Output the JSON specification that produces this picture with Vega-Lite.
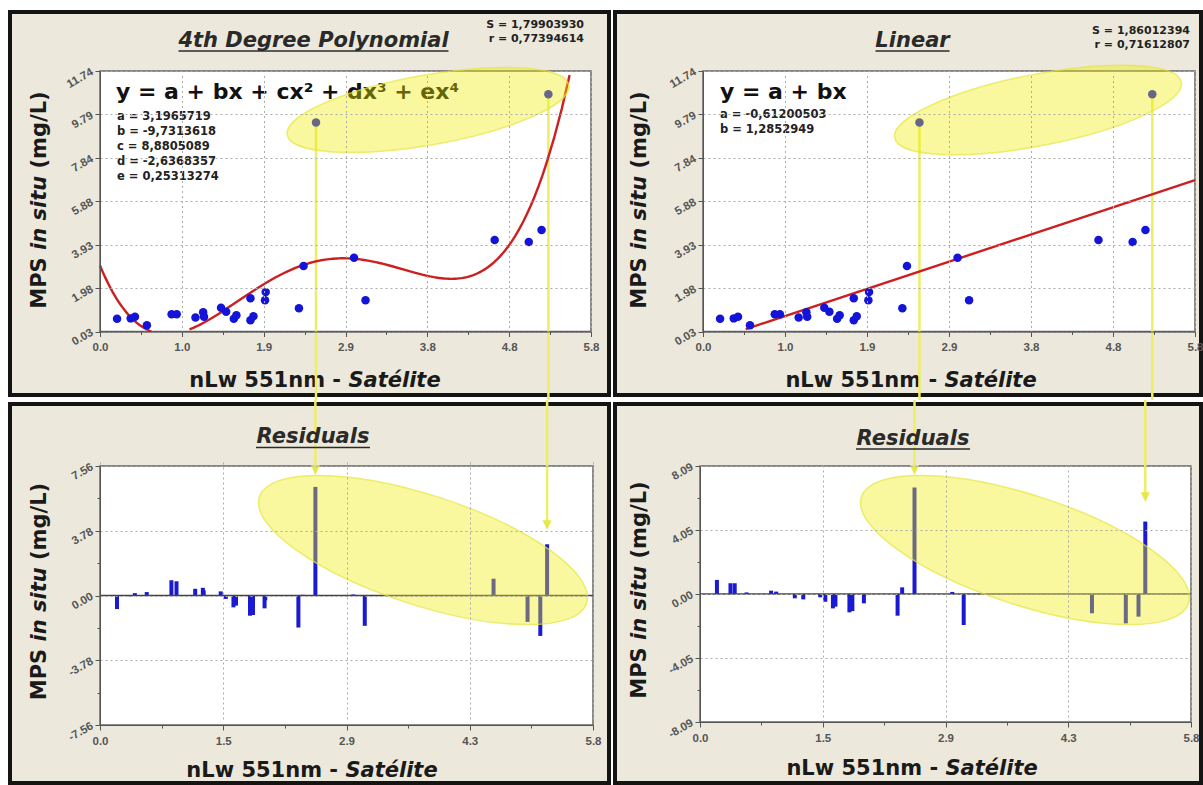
{
"$schema": "https://vega.github.io/schema/vega-lite/v6.json",
"background": "white",
"padding": {"left": 8, "top": 10, "right": 0, "bottom": 0},
"autosize": {"type": "pad"},
"datasets": {
"pts": [
{"x":0.20,"y":0.60,"rp":-0.79,"rl":0.89},
{"x":0.36,"y":0.62,"rp":-0.05,"rl":0.68},
{"x":0.41,"y":0.69,"rp":0.14,"rl":0.68},
{"x":0.55,"y":0.31,"rp":0.20,"rl":0.10},
{"x":0.84,"y":0.81,"rp":0.89,"rl":0.21},
{"x":0.90,"y":0.81,"rp":0.83,"rl":0.15},
{"x":1.12,"y":0.66,"rp":0.39,"rl":-0.27},
{"x":1.21,"y":0.90,"rp":0.45,"rl":-0.05},
{"x":1.22,"y":0.69,"rp":0.30,"rl":-0.34},
{"x":1.42,"y":1.10,"rp":0.24,"rl":-0.21},
{"x":1.48,"y":0.92,"rp":-0.20,"rl":-0.49},
{"x":1.57,"y":0.60,"rp":-0.69,"rl":-0.91},
{"x":1.60,"y":0.76,"rp":-0.59,"rl":-0.80},
{"x":1.765,"y":1.52,"rp":-0.16,"rl":-0.14},
{"x":1.765,"y":0.54,"rp":-1.18,"rl":-1.16},
{"x":1.80,"y":0.72,"rp":-1.14,"rl":-1.08},
{"x":1.944,"y":1.80,"rp":-0.28,"rl":-0.09},
{"x":1.936,"y":1.43,"rp":-0.75,"rl":-0.59},
{"x":2.334,"y":1.08,"rp":-1.87,"rl":-1.37},
{"x":2.388,"y":2.97,"rp":0.04,"rl":0.42},
{"x":2.534,"y":9.43,"rp":6.34,"rl":6.73},
{"x":2.98,"y":3.35,"rp":0.06,"rl":0.13},
{"x":3.115,"y":1.44,"rp":-1.77,"rl":-1.96},
{"x":4.63,"y":4.14,"rp":0.98,"rl":-1.22},
{"x":5.03,"y":4.05,"rp":-1.54,"rl":-1.86},
{"x":5.18,"y":4.59,"rp":-2.36,"rl":-1.43},
{"x":5.26,"y":10.70,"rp":2.99,"rl":4.58}
]
},
"config": {
"axis": {"labelFont": "Liberation Sans", "labelFontSize": 11.5, "labelFontWeight": "bold", "labelColor": "#555555", "tickColor": "#555555", "domainColor": "#555555", "domainWidth": 1, "gridColor": "#ababab", "gridDash": [2, 3], "grid": true, "zindex": 1, "labelFlush": false, "labelOverlap": false}
},
"columns": 2,
"spacing": {"row": 9, "column": 6},
"bounds": "flush",
"concat": [
{
"width": 599, "height": 383,
"view": {"fill": "#ECE9DC", "stroke": "#141414", "strokeWidth": 4},
"layer": [
{"data": {"values": [{}]},
 "mark": {"type": "rect", "fill": "#ffffff", "stroke": "#666666", "strokeWidth": 1.5},
 "encoding": {
  "x": {"datum": 0, "type": "quantitative", "scale": {"domain": [0, 5.76], "range": [90, 581], "nice": false, "zero": false},
   "axis": {"title": null, "offset": -63.5, "labelPadding": 5, "zindex": 1,
    "values": [0,0.24,0.48,0.72,0.96,1.2,1.44,1.68,1.92,2.16,2.4,2.64,2.88,3.12,3.36,3.6,3.84,4.08,4.32,4.56,4.8,5.04,5.28,5.52,5.76],
    "labelExpr": "abs(datum.value/0.96-round(datum.value/0.96))<0.01 ? format(datum.value,'.1f') : ''",
    "gridOpacity": {"condition": {"test": "abs(datum.value/0.96-round(datum.value/0.96))<0.01", "value": 1}, "value": 0},
    "tickSize": {"condition": {"test": "abs(datum.value/0.96-round(datum.value/0.96))<0.01", "value": 5}, "value": 3}}},
  "x2": {"datum": 5.76},
  "y": {"datum": 0.03, "type": "quantitative", "scale": {"domain": [0.03, 11.74], "range": [319.5, 59], "nice": false, "zero": false},
   "axis": {"title": null, "offset": -90, "labelPadding": 3, "labelAngle": -30, "labelAlign": "right", "labelBaseline": "middle", "zindex": 1,
    "values": [0.03,0.5179,1.0058,1.4938,1.9817,2.4696,2.9575,3.4454,3.9333,4.4213,4.9092,5.3971,5.885,6.3729,6.8608,7.3488,7.8367,8.3246,8.8125,9.3004,9.7883,10.2763,10.7642,11.2521,11.74],
    "labelExpr": "abs((datum.value-0.03)/1.951667-round((datum.value-0.03)/1.951667))<0.01 ? ['0.03','1.98','3.93','5.88','7.84','9.79','11.74'][round((datum.value-0.03)/1.951667)] : ''",
    "gridOpacity": {"condition": {"test": "abs((datum.value-0.03)/1.951667-round((datum.value-0.03)/1.951667))<0.01", "value": 1}, "value": 0},
    "tickSize": {"condition": {"test": "abs((datum.value-0.03)/1.951667-round((datum.value-0.03)/1.951667))<0.01", "value": 5}, "value": 3}}},
  "y2": {"datum": 11.74}
 }},
{"data": {"values": [{}]}, "mark": {"type": "text", "text": "y = a + bx + cx² + dx³ + ex⁴", "font": "DejaVu Sans", "fontSize": 22, "fontWeight": "bold", "color": "#111111", "align": "left", "baseline": "middle"},
 "encoding": {"x": {"datum": 0.188, "type": "quantitative"}, "y": {"datum": 10.80, "type": "quantitative"}}},
{"data": {"values": [{}]}, "mark": {"type": "text", "text": ["a = 3,1965719", "b = -9,7313618", "c = 8,8805089", "d = -2,6368357", "e = 0,25313274"], "lineHeight": 15, "font": "DejaVu Sans", "fontSize": 11.5, "fontWeight": "bold", "color": "#222222", "align": "left", "baseline": "top"},
 "encoding": {"x": {"datum": 0.199, "type": "quantitative"}, "y": {"datum": 9.94, "type": "quantitative"}}},
{"data": {"values": [{}]}, "mark": {"type": "text", "text": ["S = 1,79903930", "r = 0,77394614"], "lineHeight": 14, "font": "DejaVu Sans", "fontSize": 11, "fontWeight": "bold", "color": "#222222", "align": "right", "baseline": "top"},
 "encoding": {"x": {"datum": 5.678, "type": "quantitative"}, "y": {"datum": 14.06, "type": "quantitative"}}},
{"data": {"values": [{}]}, "mark": {"type": "text", "text": "4th Degree Polynomial", "font": "DejaVu Sans", "fontSize": 21, "fontWeight": "bold", "fontStyle": "italic", "color": "#2a2a2a", "align": "center", "baseline": "alphabetic"},
 "encoding": {"x": {"datum": 2.505, "type": "quantitative"}, "y": {"datum": 12.82, "type": "quantitative"}}},
{"data": {"values": [{}]}, "mark": {"type": "rule", "color": "#2a2a2a", "strokeWidth": 1.5},
 "encoding": {"x": {"datum": 0.921, "type": "quantitative"}, "x2": {"datum": 4.088}, "y": {"datum": 12.64, "type": "quantitative"}}},
{"data": {"values": [{}]}, "mark": {"type": "text", "text": "nLw 551nm -", "font": "DejaVu Sans", "fontSize": 21, "fontWeight": "bold", "color": "#1a1a1a", "align": "right", "baseline": "alphabetic"},
 "encoding": {"x": {"datum": 2.828, "type": "quantitative"}, "y": {"datum": -2.465, "type": "quantitative"}}},
{"data": {"values": [{}]}, "mark": {"type": "text", "text": "Satélite", "font": "DejaVu Sans", "fontSize": 21, "fontWeight": "bold", "fontStyle": "italic", "color": "#1a1a1a", "align": "left", "baseline": "alphabetic"},
 "encoding": {"x": {"datum": 2.914, "type": "quantitative"}, "y": {"datum": -2.465, "type": "quantitative"}}},
{"data": {"values": [{}]}, "mark": {"type": "text", "text": "MPS", "angle": 270, "font": "DejaVu Sans", "fontSize": 21, "fontWeight": "bold", "color": "#1a1a1a", "align": "left", "baseline": "middle"},
 "encoding": {"x": {"datum": -0.704, "type": "quantitative"}, "y": {"datum": 1.055, "type": "quantitative"}}},
{"data": {"values": [{}]}, "mark": {"type": "text", "text": "in situ", "angle": 270, "font": "DejaVu Sans", "fontSize": 21, "fontWeight": "bold", "fontStyle": "italic", "color": "#1a1a1a", "align": "left", "baseline": "middle"},
 "encoding": {"x": {"datum": -0.704, "type": "quantitative"}, "y": {"datum": 3.694, "type": "quantitative"}}},
{"data": {"values": [{}]}, "mark": {"type": "text", "text": "(mg/L)", "angle": 270, "font": "DejaVu Sans", "fontSize": 21, "fontWeight": "bold", "color": "#1a1a1a", "align": "left", "baseline": "middle"},
 "encoding": {"x": {"datum": -0.704, "type": "quantitative"}, "y": {"datum": 7.357, "type": "quantitative"}}},
{"data": {"name": "pts"}, "transform": [{"filter": "datum.y > 8"}],
 "mark": {"type": "rule", "color": "#eeee66", "strokeWidth": 2.5},
 "encoding": {"x": {"field": "x", "type": "quantitative"}, "y": {"field": "y", "type": "quantitative"}, "y2": {"datum": -3.05}}},
{"data": {"name": "pts"}, "transform": [{"regression": "y", "on": "x", "method": "poly", "order": 4, "extent": [0, 0.6]}, {"filter": "datum.y >= 0.03"}],
 "mark": {"type": "line", "color": "#cc1f1f", "strokeWidth": 2.4},
 "encoding": {"x": {"field": "x", "type": "quantitative"}, "y": {"field": "y", "type": "quantitative"}}},
{"data": {"name": "pts"}, "transform": [{"regression": "y", "on": "x", "method": "poly", "order": 4, "extent": [1.05, 5.6]}, {"filter": "datum.y >= 0.03 && datum.y <= 11.8"}],
 "mark": {"type": "line", "color": "#cc1f1f", "strokeWidth": 2.4},
 "encoding": {"x": {"field": "x", "type": "quantitative"}, "y": {"field": "y", "type": "quantitative"}}},
{"data": {"name": "pts"}, "mark": {"type": "circle", "size": 72, "color": "#1414d8", "opacity": 1},
 "encoding": {"x": {"field": "x", "type": "quantitative"}, "y": {"field": "y", "type": "quantitative"}}},
{"data": {"values": [{}]}, "mark": {"type": "point", "shape": "M-1,0C-1,-0.1353,-0.5523,-0.245,0,-0.245C0.5523,-0.245,1,-0.1353,1,0C1,0.1353,0.5523,0.245,0,0.245C-0.5523,0.245,-1,0.1353,-1,0Z", "size": 81796, "angle": 350, "filled": true, "color": "#efec00", "opacity": 1, "fillOpacity": 0.38, "stroke": "#e6e640", "strokeOpacity": 0.7, "strokeWidth": 1.5},
 "encoding": {"x": {"datum": 3.848, "type": "quantitative"}, "y": {"datum": 9.987, "type": "quantitative"}}}
]
},
{
"width": 586, "height": 383,
"view": {"fill": "#ECE9DC", "stroke": "#141414", "strokeWidth": 4},
"layer": [
{"data": {"values": [{}]},
 "mark": {"type": "rect", "fill": "#ffffff", "stroke": "#666666", "strokeWidth": 1.5},
 "encoding": {
  "x": {"datum": 0, "type": "quantitative", "scale": {"domain": [0, 5.76], "range": [88, 580], "nice": false, "zero": false},
   "axis": {"title": null, "offset": -63.5, "labelPadding": 5, "zindex": 1,
    "values": [0,0.24,0.48,0.72,0.96,1.2,1.44,1.68,1.92,2.16,2.4,2.64,2.88,3.12,3.36,3.6,3.84,4.08,4.32,4.56,4.8,5.04,5.28,5.52,5.76],
    "labelExpr": "abs(datum.value/0.96-round(datum.value/0.96))<0.01 ? format(datum.value,'.1f') : ''",
    "gridOpacity": {"condition": {"test": "abs(datum.value/0.96-round(datum.value/0.96))<0.01", "value": 1}, "value": 0},
    "tickSize": {"condition": {"test": "abs(datum.value/0.96-round(datum.value/0.96))<0.01", "value": 5}, "value": 3}}},
  "x2": {"datum": 5.76},
  "y": {"datum": 0.03, "type": "quantitative", "scale": {"domain": [0.03, 11.74], "range": [319.5, 59], "nice": false, "zero": false},
   "axis": {"title": null, "offset": -88, "labelPadding": 3, "labelAngle": -30, "labelAlign": "right", "labelBaseline": "middle", "zindex": 1,
    "values": [0.03,0.5179,1.0058,1.4938,1.9817,2.4696,2.9575,3.4454,3.9333,4.4213,4.9092,5.3971,5.885,6.3729,6.8608,7.3488,7.8367,8.3246,8.8125,9.3004,9.7883,10.2763,10.7642,11.2521,11.74],
    "labelExpr": "abs((datum.value-0.03)/1.951667-round((datum.value-0.03)/1.951667))<0.01 ? ['0.03','1.98','3.93','5.88','7.84','9.79','11.74'][round((datum.value-0.03)/1.951667)] : ''",
    "gridOpacity": {"condition": {"test": "abs((datum.value-0.03)/1.951667-round((datum.value-0.03)/1.951667))<0.01", "value": 1}, "value": 0},
    "tickSize": {"condition": {"test": "abs((datum.value-0.03)/1.951667-round((datum.value-0.03)/1.951667))<0.01", "value": 5}, "value": 3}}},
  "y2": {"datum": 11.74}
 }},
{"data": {"values": [{}]}, "mark": {"type": "text", "text": "y = a + bx", "font": "DejaVu Sans", "fontSize": 22, "fontWeight": "bold", "color": "#111111", "align": "left", "baseline": "middle"},
 "encoding": {"x": {"datum": 0.199, "type": "quantitative"}, "y": {"datum": 10.80, "type": "quantitative"}}},
{"data": {"values": [{}]}, "mark": {"type": "text", "text": ["a = -0,61200503", "b = 1,2852949"], "lineHeight": 15, "font": "DejaVu Sans", "fontSize": 11.5, "fontWeight": "bold", "color": "#222222", "align": "left", "baseline": "top"},
 "encoding": {"x": {"datum": 0.199, "type": "quantitative"}, "y": {"datum": 10.01, "type": "quantitative"}}},
{"data": {"values": [{}]}, "mark": {"type": "text", "text": ["S = 1,86012394", "r = 0,71612807"], "lineHeight": 14, "font": "DejaVu Sans", "fontSize": 11, "fontWeight": "bold", "color": "#222222", "align": "right", "baseline": "top"},
 "encoding": {"x": {"datum": 5.701, "type": "quantitative"}, "y": {"datum": 13.79, "type": "quantitative"}}},
{"data": {"values": [{}]}, "mark": {"type": "text", "text": "Linear", "font": "DejaVu Sans", "fontSize": 21, "fontWeight": "bold", "fontStyle": "italic", "color": "#2a2a2a", "align": "center", "baseline": "alphabetic"},
 "encoding": {"x": {"datum": 2.453, "type": "quantitative"}, "y": {"datum": 12.82, "type": "quantitative"}}},
{"data": {"values": [{}]}, "mark": {"type": "rule", "color": "#2a2a2a", "strokeWidth": 1.5},
 "encoding": {"x": {"datum": 2.019, "type": "quantitative"}, "x2": {"datum": 2.886}, "y": {"datum": 12.64, "type": "quantitative"}}},
{"data": {"values": [{}]}, "mark": {"type": "text", "text": "nLw 551nm -", "font": "DejaVu Sans", "fontSize": 21, "fontWeight": "bold", "color": "#1a1a1a", "align": "right", "baseline": "alphabetic"},
 "encoding": {"x": {"datum": 2.741, "type": "quantitative"}, "y": {"datum": -2.465, "type": "quantitative"}}},
{"data": {"values": [{}]}, "mark": {"type": "text", "text": "Satélite", "font": "DejaVu Sans", "fontSize": 21, "fontWeight": "bold", "fontStyle": "italic", "color": "#1a1a1a", "align": "left", "baseline": "alphabetic"},
 "encoding": {"x": {"datum": 2.826, "type": "quantitative"}, "y": {"datum": -2.465, "type": "quantitative"}}},
{"data": {"values": [{}]}, "mark": {"type": "text", "text": "MPS", "angle": 270, "font": "DejaVu Sans", "fontSize": 21, "fontWeight": "bold", "color": "#1a1a1a", "align": "left", "baseline": "middle"},
 "encoding": {"x": {"datum": -0.738, "type": "quantitative"}, "y": {"datum": 1.055, "type": "quantitative"}}},
{"data": {"values": [{}]}, "mark": {"type": "text", "text": "in situ", "angle": 270, "font": "DejaVu Sans", "fontSize": 21, "fontWeight": "bold", "fontStyle": "italic", "color": "#1a1a1a", "align": "left", "baseline": "middle"},
 "encoding": {"x": {"datum": -0.738, "type": "quantitative"}, "y": {"datum": 3.694, "type": "quantitative"}}},
{"data": {"values": [{}]}, "mark": {"type": "text", "text": "(mg/L)", "angle": 270, "font": "DejaVu Sans", "fontSize": 21, "fontWeight": "bold", "color": "#1a1a1a", "align": "left", "baseline": "middle"},
 "encoding": {"x": {"datum": -0.738, "type": "quantitative"}, "y": {"datum": 7.357, "type": "quantitative"}}},
{"data": {"name": "pts"}, "transform": [{"filter": "datum.y > 8"}],
 "mark": {"type": "rule", "color": "#eeee66", "strokeWidth": 2.5},
 "encoding": {"x": {"field": "x", "type": "quantitative"}, "y": {"field": "y", "type": "quantitative"}, "y2": {"datum": -3.05}}},
{"data": {"name": "pts"}, "transform": [{"regression": "y", "on": "x", "method": "linear", "extent": [0.5, 5.76]}],
 "mark": {"type": "line", "color": "#cc1f1f", "strokeWidth": 2.4},
 "encoding": {"x": {"field": "x", "type": "quantitative"}, "y": {"field": "y", "type": "quantitative"}}},
{"data": {"name": "pts"}, "mark": {"type": "circle", "size": 72, "color": "#1414d8", "opacity": 1},
 "encoding": {"x": {"field": "x", "type": "quantitative"}, "y": {"field": "y", "type": "quantitative"}}},
{"data": {"values": [{}]}, "mark": {"type": "point", "shape": "M-1,0C-1,-0.1353,-0.5523,-0.245,0,-0.245C0.5523,-0.245,1,-0.1353,1,0C1,0.1353,0.5523,0.245,0,0.245C-0.5523,0.245,-1,0.1353,-1,0Z", "size": 85264, "angle": 349, "filled": true, "color": "#efec00", "opacity": 1, "fillOpacity": 0.38, "stroke": "#e6e640", "strokeOpacity": 0.7, "strokeWidth": 1.5},
 "encoding": {"x": {"datum": 3.922, "type": "quantitative"}, "y": {"datum": 9.987, "type": "quantitative"}}}
]
},
{
"width": 599, "height": 379,
"view": {"fill": "#ECE9DC", "stroke": "#141414", "strokeWidth": 4},
"layer": [
{"data": {"values": [{}]},
 "mark": {"type": "rect", "fill": "#ffffff", "stroke": "#666666", "strokeWidth": 1.5},
 "encoding": {
  "x": {"datum": 0, "type": "quantitative", "scale": {"domain": [0, 5.8], "range": [90, 583], "nice": false, "zero": false},
   "axis": {"title": null, "offset": -58, "labelPadding": 5, "zindex": 1,
    "values": [0,0.3625,0.725,1.0875,1.45,1.8125,2.175,2.5375,2.9,3.2625,3.625,3.9875,4.35,4.7125,5.075,5.4375,5.8],
    "labelExpr": "abs(datum.value/1.45-round(datum.value/1.45))<0.01 ? ['0.0','1.5','2.9','4.3','5.8'][round(datum.value/1.45)] : ''",
    "gridOpacity": {"condition": {"test": "abs(datum.value/1.45-round(datum.value/1.45))<0.01", "value": 1}, "value": 0},
    "tickSize": {"condition": {"test": "abs(datum.value/1.45-round(datum.value/1.45))<0.01", "value": 5}, "value": 3}}},
  "x2": {"datum": 5.8},
  "y": {"datum": -7.56, "type": "quantitative", "scale": {"domain": [-7.56, 7.56], "range": [321, 62], "nice": false, "zero": false},
   "axis": {"title": null, "offset": -90, "labelPadding": 3, "labelAngle": -30, "labelAlign": "right", "labelBaseline": "middle", "zindex": 1,
    "values": [-7.56,-6.615,-5.67,-4.725,-3.78,-2.835,-1.89,-0.945,0,0.945,1.89,2.835,3.78,4.725,5.67,6.615,7.56],
    "labelExpr": "abs((datum.value+7.56)/3.78-round((datum.value+7.56)/3.78))<0.01 ? ['-7.56','-3.78','0.00','3.78','7.56'][round((datum.value+7.56)/3.78)] : ''",
    "gridOpacity": {"condition": {"test": "abs((datum.value+7.56)/3.78-round((datum.value+7.56)/3.78))<0.01", "value": 1}, "value": 0},
    "tickSize": {"condition": {"test": "abs((datum.value+7.56)/3.78-round((datum.value+7.56)/3.78))<0.01", "value": 5}, "value": 3}}},
  "y2": {"datum": 7.56}
 }},
{"data": {"name": "pts"}, "mark": {"type": "rule", "color": "#1a1ad2", "strokeWidth": 4},
 "encoding": {"x": {"field": "x", "type": "quantitative"}, "y": {"field": "rp", "type": "quantitative"}, "y2": {"datum": 0}}},
{"data": {"values": [{}]}, "mark": {"type": "rule", "color": "#444444", "strokeWidth": 1.5},
 "encoding": {"x": {"datum": 0, "type": "quantitative"}, "x2": {"datum": 5.8}, "y": {"datum": 0, "type": "quantitative"}}},
{"data": {"values": [{}]}, "mark": {"type": "point", "shape": "M-1,0C-1,-0.1767,-0.5523,-0.32,0,-0.32C0.5523,-0.32,1,-0.1767,1,0C1,0.1767,0.5523,0.32,0,0.32C-0.5523,0.32,-1,0.1767,-1,0Z", "size": 118336, "angle": 18, "filled": true, "color": "#efec00", "opacity": 1, "fillOpacity": 0.38, "stroke": "#e6e640", "strokeOpacity": 0.7, "strokeWidth": 1.5},
 "encoding": {"x": {"datum": 3.80, "type": "quantitative"}, "y": {"datum": 2.656, "type": "quantitative"}}},
{"data": {"name": "pts"}, "transform": [{"filter": "datum.y > 8 && datum.x < 4"}],
 "mark": {"type": "rule", "color": "#eeee66", "strokeWidth": 2.5},
 "encoding": {"x": {"field": "x", "type": "quantitative"}, "y": {"datum": 11.41, "type": "quantitative"}, "y2": {"datum": 7.5}}},
{"data": {"name": "pts"}, "transform": [{"filter": "datum.y > 8 && datum.x < 4"}],
 "mark": {"type": "point", "shape": "M-1,-2.2L1,-2.2L0,0Z", "size": 81, "filled": true, "color": "#e8e844", "opacity": 1},
 "encoding": {"x": {"field": "x", "type": "quantitative"}, "y": {"datum": 7.03, "type": "quantitative"}}},
{"data": {"name": "pts"}, "transform": [{"filter": "datum.y > 8 && datum.x > 4"}],
 "mark": {"type": "rule", "color": "#eeee66", "strokeWidth": 2.5},
 "encoding": {"x": {"field": "x", "type": "quantitative"}, "y": {"datum": 11.41, "type": "quantitative"}, "y2": {"datum": 4.3}}},
{"data": {"name": "pts"}, "transform": [{"filter": "datum.y > 8 && datum.x > 4"}],
 "mark": {"type": "point", "shape": "M-1,-2.2L1,-2.2L0,0Z", "size": 81, "filled": true, "color": "#e8e844", "opacity": 1},
 "encoding": {"x": {"field": "x", "type": "quantitative"}, "y": {"datum": 3.82, "type": "quantitative"}}},
{"data": {"values": [{}]}, "mark": {"type": "text", "text": "Residuals", "font": "DejaVu Sans", "fontSize": 21, "fontWeight": "bold", "fontStyle": "italic", "color": "#2a2a2a", "align": "center", "baseline": "alphabetic"},
 "encoding": {"x": {"datum": 2.506, "type": "quantitative"}, "y": {"datum": 8.90, "type": "quantitative"}}},
{"data": {"values": [{}]}, "mark": {"type": "rule", "color": "#2a2a2a", "strokeWidth": 1.5},
 "encoding": {"x": {"datum": 1.835, "type": "quantitative"}, "x2": {"datum": 3.176}, "y": {"datum": 8.64, "type": "quantitative"}}},
{"data": {"values": [{}]}, "mark": {"type": "text", "text": "nLw 551nm -", "font": "DejaVu Sans", "fontSize": 21, "fontWeight": "bold", "color": "#1a1a1a", "align": "right", "baseline": "alphabetic"},
 "encoding": {"x": {"datum": 2.801, "type": "quantitative"}, "y": {"datum": -10.596, "type": "quantitative"}}},
{"data": {"values": [{}]}, "mark": {"type": "text", "text": "Satélite", "font": "DejaVu Sans", "fontSize": 21, "fontWeight": "bold", "fontStyle": "italic", "color": "#1a1a1a", "align": "left", "baseline": "alphabetic"},
 "encoding": {"x": {"datum": 2.887, "type": "quantitative"}, "y": {"datum": -10.596, "type": "quantitative"}}},
{"data": {"values": [{}]}, "mark": {"type": "text", "text": "MPS", "angle": 270, "font": "DejaVu Sans", "fontSize": 21, "fontWeight": "bold", "color": "#1a1a1a", "align": "left", "baseline": "middle"},
 "encoding": {"x": {"datum": -0.706, "type": "quantitative"}, "y": {"datum": -6.112, "type": "quantitative"}}},
{"data": {"values": [{}]}, "mark": {"type": "text", "text": "in situ", "angle": 270, "font": "DejaVu Sans", "fontSize": 21, "fontWeight": "bold", "fontStyle": "italic", "color": "#1a1a1a", "align": "left", "baseline": "middle"},
 "encoding": {"x": {"datum": -0.706, "type": "quantitative"}, "y": {"datum": -2.685, "type": "quantitative"}}},
{"data": {"values": [{}]}, "mark": {"type": "text", "text": "(mg/L)", "angle": 270, "font": "DejaVu Sans", "fontSize": 21, "fontWeight": "bold", "color": "#1a1a1a", "align": "left", "baseline": "middle"},
 "encoding": {"x": {"datum": -0.706, "type": "quantitative"}, "y": {"datum": 2.072, "type": "quantitative"}}}
]
},
{
"width": 586, "height": 379,
"view": {"fill": "#ECE9DC", "stroke": "#141414", "strokeWidth": 4},
"layer": [
{"data": {"values": [{}]},
 "mark": {"type": "rect", "fill": "#ffffff", "stroke": "#666666", "strokeWidth": 1.5},
 "encoding": {
  "x": {"datum": 0, "type": "quantitative", "scale": {"domain": [0, 5.8], "range": [85, 576], "nice": false, "zero": false},
   "axis": {"title": null, "offset": -61, "labelPadding": 5, "zindex": 1,
    "values": [0,0.3625,0.725,1.0875,1.45,1.8125,2.175,2.5375,2.9,3.2625,3.625,3.9875,4.35,4.7125,5.075,5.4375,5.8],
    "labelExpr": "abs(datum.value/1.45-round(datum.value/1.45))<0.01 ? ['0.0','1.5','2.9','4.3','5.8'][round(datum.value/1.45)] : ''",
    "gridOpacity": {"condition": {"test": "abs(datum.value/1.45-round(datum.value/1.45))<0.01", "value": 1}, "value": 0},
    "tickSize": {"condition": {"test": "abs(datum.value/1.45-round(datum.value/1.45))<0.01", "value": 5}, "value": 3}}},
  "x2": {"datum": 5.8},
  "y": {"datum": -8.09, "type": "quantitative", "scale": {"domain": [-8.09, 8.09], "range": [318, 62], "nice": false, "zero": false},
   "axis": {"title": null, "offset": -85, "labelPadding": 3, "labelAngle": -30, "labelAlign": "right", "labelBaseline": "middle", "zindex": 1,
    "values": [-8.09,-7.07875,-6.0675,-5.05625,-4.045,-3.03375,-2.0225,-1.01125,0,1.01125,2.0225,3.03375,4.045,5.05625,6.0675,7.07875,8.09],
    "labelExpr": "abs((datum.value+8.09)/4.045-round((datum.value+8.09)/4.045))<0.01 ? ['-8.09','-4.05','0.00','4.05','8.09'][round((datum.value+8.09)/4.045)] : ''",
    "gridOpacity": {"condition": {"test": "abs((datum.value+8.09)/4.045-round((datum.value+8.09)/4.045))<0.01", "value": 1}, "value": 0},
    "tickSize": {"condition": {"test": "abs((datum.value+8.09)/4.045-round((datum.value+8.09)/4.045))<0.01", "value": 5}, "value": 3}}},
  "y2": {"datum": 8.09}
 }},
{"data": {"name": "pts"}, "mark": {"type": "rule", "color": "#1a1ad2", "strokeWidth": 4},
 "encoding": {"x": {"field": "x", "type": "quantitative"}, "y": {"field": "rl", "type": "quantitative"}, "y2": {"datum": 0}}},
{"data": {"values": [{}]}, "mark": {"type": "rule", "color": "#444444", "strokeWidth": 1.5},
 "encoding": {"x": {"datum": 0, "type": "quantitative"}, "x2": {"datum": 5.8}, "y": {"datum": 0, "type": "quantitative"}}},
{"data": {"values": [{}]}, "mark": {"type": "point", "shape": "M-1,0C-1,-0.1767,-0.5523,-0.32,0,-0.32C0.5523,-0.32,1,-0.1767,1,0C1,0.1767,0.5523,0.32,0,0.32C-0.5523,0.32,-1,0.1767,-1,0Z", "size": 118336, "angle": 18, "filled": true, "color": "#efec00", "opacity": 1, "fillOpacity": 0.38, "stroke": "#e6e640", "strokeOpacity": 0.7, "strokeWidth": 1.5},
 "encoding": {"x": {"datum": 3.839, "type": "quantitative"}, "y": {"datum": 2.781, "type": "quantitative"}}},
{"data": {"name": "pts"}, "transform": [{"filter": "datum.y > 8 && datum.x < 4"}],
 "mark": {"type": "rule", "color": "#eeee66", "strokeWidth": 2.5},
 "encoding": {"x": {"field": "x", "type": "quantitative"}, "y": {"datum": 12.26, "type": "quantitative"}, "y2": {"datum": 8.0}}},
{"data": {"name": "pts"}, "transform": [{"filter": "datum.y > 8 && datum.x < 4"}],
 "mark": {"type": "point", "shape": "M-1,-2.2L1,-2.2L0,0Z", "size": 81, "filled": true, "color": "#e8e844", "opacity": 1},
 "encoding": {"x": {"field": "x", "type": "quantitative"}, "y": {"datum": 7.52, "type": "quantitative"}}},
{"data": {"name": "pts"}, "transform": [{"filter": "datum.y > 8 && datum.x > 4"}],
 "mark": {"type": "rule", "color": "#eeee66", "strokeWidth": 2.5},
 "encoding": {"x": {"field": "x", "type": "quantitative"}, "y": {"datum": 12.26, "type": "quantitative"}, "y2": {"datum": 6.3}}},
{"data": {"name": "pts"}, "transform": [{"filter": "datum.y > 8 && datum.x > 4"}],
 "mark": {"type": "point", "shape": "M-1,-2.2L1,-2.2L0,0Z", "size": 81, "filled": true, "color": "#e8e844", "opacity": 1},
 "encoding": {"x": {"field": "x", "type": "quantitative"}, "y": {"datum": 5.81, "type": "quantitative"}}},
{"data": {"values": [{}]}, "mark": {"type": "text", "text": "Residuals", "font": "DejaVu Sans", "fontSize": 21, "fontWeight": "bold", "fontStyle": "italic", "color": "#2a2a2a", "align": "center", "baseline": "alphabetic"},
 "encoding": {"x": {"datum": 2.516, "type": "quantitative"}, "y": {"datum": 9.417, "type": "quantitative"}}},
{"data": {"values": [{}]}, "mark": {"type": "rule", "color": "#2a2a2a", "strokeWidth": 1.5},
 "encoding": {"x": {"datum": 1.843, "type": "quantitative"}, "x2": {"datum": 3.19}, "y": {"datum": 9.164, "type": "quantitative"}}},
{"data": {"values": [{}]}, "mark": {"type": "text", "text": "nLw 551nm -", "font": "DejaVu Sans", "fontSize": 21, "fontWeight": "bold", "color": "#1a1a1a", "align": "right", "baseline": "alphabetic"},
 "encoding": {"x": {"datum": 2.813, "type": "quantitative"}, "y": {"datum": -11.44, "type": "quantitative"}}},
{"data": {"values": [{}]}, "mark": {"type": "text", "text": "Satélite", "font": "DejaVu Sans", "fontSize": 21, "fontWeight": "bold", "fontStyle": "italic", "color": "#1a1a1a", "align": "left", "baseline": "alphabetic"},
 "encoding": {"x": {"datum": 2.899, "type": "quantitative"}, "y": {"datum": -11.44, "type": "quantitative"}}},
{"data": {"values": [{}]}, "mark": {"type": "text", "text": "MPS", "angle": 270, "font": "DejaVu Sans", "fontSize": 21, "fontWeight": "bold", "color": "#1a1a1a", "align": "left", "baseline": "middle"},
 "encoding": {"x": {"datum": -0.709, "type": "quantitative"}, "y": {"datum": -6.617, "type": "quantitative"}}},
{"data": {"values": [{}]}, "mark": {"type": "text", "text": "in situ", "angle": 270, "font": "DejaVu Sans", "fontSize": 21, "fontWeight": "bold", "fontStyle": "italic", "color": "#1a1a1a", "align": "left", "baseline": "middle"},
 "encoding": {"x": {"datum": -0.709, "type": "quantitative"}, "y": {"datum": -2.907, "type": "quantitative"}}},
{"data": {"values": [{}]}, "mark": {"type": "text", "text": "(mg/L)", "angle": 270, "font": "DejaVu Sans", "fontSize": 21, "fontWeight": "bold", "color": "#1a1a1a", "align": "left", "baseline": "middle"},
 "encoding": {"x": {"datum": -0.709, "type": "quantitative"}, "y": {"datum": 2.244, "type": "quantitative"}}}
]
}
]
}
